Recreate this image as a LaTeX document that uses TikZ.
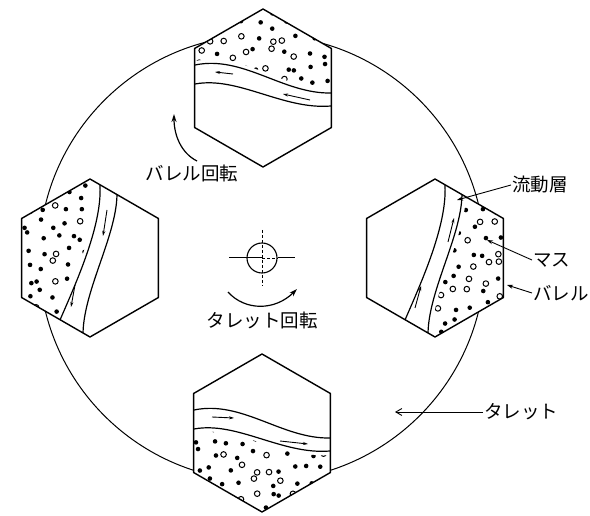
\documentclass[tikz,border=0pt]{standalone}
\usepackage{fontspec}
\newfontfamily\jp{Noto Sans CJK JP}
\usetikzlibrary{arrows.meta}

% barrel outline and the two edges of the flow layer, in barrel coordinates
\newcommand{\hexr}{79}
\newcommand{\hexpath}{(90:\hexr) -- (150:\hexr) -- (210:\hexr) -- (270:\hexr) -- (330:\hexr) -- (30:\hexr) -- cycle}
\newcommand{\flatupper}{(-90,23) -- (-68,23) .. controls (-20,33) and (20,-6) .. (68,-5) -- (90,-5)}
\newcommand{\flatlower}{(-90,4) -- (-68,4) .. controls (-25,12) and (20,-22) .. (68,-18) -- (90,-18)}
\newcommand{\standleft}{(10,90) -- (10,72) .. controls (12,32) and (-14,-25) .. (-30,-62) -- (-37,-80)}
\newcommand{\standright}{(27,80) -- (27,63) .. controls (26,20) and (-8,-35) .. (-7,-79) -- (-7,-90)}

\tikzset{
  barrel/.style={draw, line width=1.4pt, line join=round},
  layer/.style={line width=1.2pt},
  grain/.style={fill=black},
  grainopen/.style={draw, line width=1pt},
  flowarrow/.style={line width=0.9pt, -{Stealth[length=5pt,width=3pt]}},
  lbl/.style={font=\jp\fontsize{18.5}{22}\selectfont, inner sep=1pt},
  leader/.style={line width=0.9pt, -{Stealth[length=6pt,width=4pt]}},
  turn/.style={line width=1.2pt, -{Stealth[length=8pt,width=5pt]}},
}

% grains of the mass, scattered on a shaken grid
\newcommand{\massdots}[1]{%
  \pgfmathsetseed{#1}%
  \foreach \gx in {-77,-63,...,77} {
    \foreach \gy in {-77,-63,...,77} {
      \pgfmathsetmacro{\dx}{\gx+5*rand}
      \pgfmathsetmacro{\dy}{\gy+5*rand}
      \pgfmathtruncatemacro{\kind}{rnd<0.3 ? 1 : 0}
      \ifnum\kind=1
        \draw[grainopen] (\dx,\dy) circle (2.8);
      \else
        \fill[grain] (\dx,\dy) circle (2.3);
      \fi
    }
  }%
}

\begin{document}
\begin{tikzpicture}[x=1pt, y=1pt]
  \useasboundingbox (0,0) rectangle (590,515);

  % turret
  \draw[line width=1pt] (262,257) circle (223);

  % top barrel, mass on top
  \begin{scope}[shift={(263,427)}]
    \fill[white] \hexpath;
    \begin{scope}
      \clip \hexpath;
      \clip[shift={(0,4)}] \flatupper -- (90,90) -- (-90,90) -- cycle;
      \massdots{11}
    \end{scope}
    \begin{scope}
      \clip \hexpath;
      \draw[layer] \flatupper;
      \draw[layer] \flatlower;
    \end{scope}
    \draw[flowarrow] (-30,14) -- (-48,16);
    \draw[flowarrow] (47,-12) -- (20,-6);
    \draw[barrel] \hexpath;
  \end{scope}

  % left barrel, mass on the left
  \begin{scope}[shift={(90,257)}]
    \fill[white] \hexpath;
    \begin{scope}
      \clip \hexpath;
      \clip[shift={(-4,0)}] \standleft -- (-90,-90) -- (-90,90) -- cycle;
      \massdots{23}
    \end{scope}
    \begin{scope}
      \clip \hexpath;
      \draw[layer] \standleft;
      \draw[layer] \standright;
    \end{scope}
    \draw[flowarrow] (17,48) -- (13,22);
    \draw[flowarrow] (-15,-27) -- (-19,-49);
    \draw[barrel] \hexpath;
  \end{scope}

  % right barrel, mass on the right
  \begin{scope}[shift={(435,257)}]
    \fill[white] \hexpath;
    \begin{scope}
      \clip \hexpath;
      \clip[shift={(4,0)}] \standright -- (90,-90) -- (90,90) -- cycle;
      \massdots{37}
    \end{scope}
    \begin{scope}
      \clip \hexpath;
      \draw[layer] \standleft;
      \draw[layer] \standright;
    \end{scope}
    \draw[flowarrow] (13,16) -- (19,40);
    \draw[flowarrow] (-20,-50) -- (-14,-28);
    \draw[barrel] \hexpath;
  \end{scope}

  % bottom barrel, mass below
  \begin{scope}[shift={(262,82)}]
    \fill[white] \hexpath;
    \begin{scope}
      \clip \hexpath;
      \clip[shift={(0,-4)}] \flatlower -- (90,-90) -- (-90,-90) -- cycle;
      \massdots{41}
    \end{scope}
    \begin{scope}
      \clip \hexpath;
      \draw[layer] \flatupper;
      \draw[layer] \flatlower;
    \end{scope}
    \draw[flowarrow] (-50,16) -- (-28,15);
    \draw[flowarrow] (18,-8) -- (46,-11);
    \draw[barrel] \hexpath;
  \end{scope}

  % turret axis
  \node[circle, draw, line width=1.1pt, minimum size=30pt, inner sep=0pt] (axis) at (262,257) {};
  \draw[line width=1pt] (axis.west) -- ++(-17,0);
  \draw[line width=1pt] (axis.east) -- ++(17,0);
  \draw[line width=1pt] (axis.west) -- (axis.center);
  \draw[line width=0.7pt, densely dashed] (axis.center) -- (axis.east);
  \draw[line width=0.6pt, densely dashed] (axis.center) ++(0,28) -- ++(0,-56);

  % turret rotation
  \node[lbl] (turretrot) at (262,195) {タレット回転};
  \coordinate (turretfrom) at (228,223);
  \coordinate (turretto) at (297,226);
  \draw[turn] (turretfrom) .. controls (245,204) and (275,204) .. (turretto);

  % barrel rotation
  \node[lbl] (barrelrot) at (192,342) {バレル回転};
  \coordinate (barrelfrom) at (197,354);
  \coordinate (barrelto) at (174,401);
  \draw[turn] (barrelfrom) .. controls (181,362) and (174,380) .. (barrelto);

  % names of the parts
  \node[lbl, anchor=west] (flowlbl) at (511,330) {流動層};
  \coordinate (flowtip) at (457,315);
  \draw[leader] (flowlbl.west) -- (flowtip);

  \node[lbl, anchor=west] (masslbl) at (532,255) {マス};
  \coordinate (masstip) at (487,275);
  \draw[leader] (masslbl.west) -- (masstip);

  \node[lbl, anchor=west] (barrellbl) at (532,222) {バレル};
  \coordinate (barreltip) at (507,230);
  \draw[leader] (barrellbl.west) -- (barreltip);

  \node[lbl, anchor=west] (turretlbl) at (483,103) {タレット};
  \coordinate (turrettip) at (395,103);
  \draw[line width=0.9pt, -{Straight Barb[length=6pt,width=7pt]}] (turretlbl.west) -- (turrettip);
\end{tikzpicture}
\end{document}
